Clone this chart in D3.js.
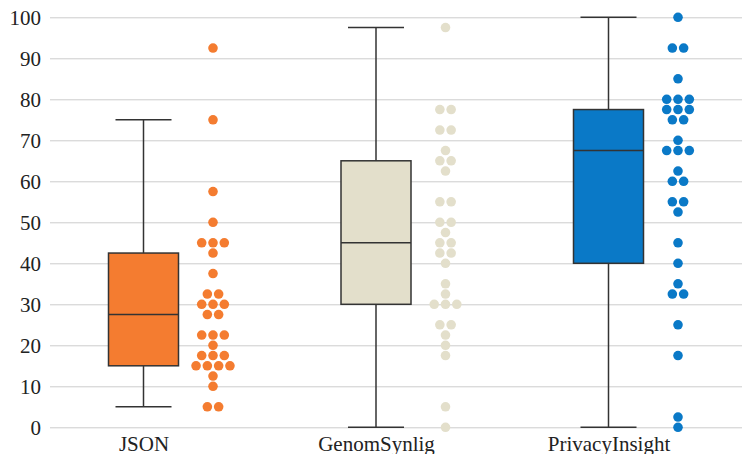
<!DOCTYPE html>
<html>
<head>
<meta charset="utf-8">
<script src="https://cdn.jsdelivr.net/npm/d3@7"></script>
<style>
  html, body { margin: 0; padding: 0; background: #fff; }
  svg { display: block; }
</style>
</head>
<body>
<svg id="chart" width="742" height="454"></svg>
<script>
const categories = ["JSON", "GenomSynlig", "PrivacyInsight"];
const colors = ["#F47C30", "#E3DFCB", "#0A79C7"];
// box statistics: [whiskerLow, q1, median, q3, whiskerHigh]
const boxJSON = [5, 15, 27.5, 42.5, 75];
const boxGenom = [0, 30, 45, 65, 97.5];
const boxPrivacy = [0, 40, 67.5, 77.5, 100];
// individual observations
const valuesJSON = [92.5, 75, 57.5, 50, 45, 45, 45, 42.5, 37.5, 32.5, 32.5, 30, 30, 30,
  27.5, 27.5, 22.5, 22.5, 22.5, 20, 17.5, 17.5, 17.5, 15, 15, 15, 15, 12.5, 10, 5, 5];
const valuesGenom = [97.5, 77.5, 77.5, 72.5, 72.5, 67.5, 65, 65, 62.5, 55, 55, 50, 50, 47.5,
  45, 45, 42.5, 42.5, 40, 35, 32.5, 30, 30, 30, 25, 25, 22.5, 20, 17.5, 5, 0];
const valuesPrivacy = [100, 92.5, 92.5, 85, 80, 80, 80, 77.5, 77.5, 77.5, 75, 75, 70,
  67.5, 67.5, 67.5, 62.5, 60, 60, 55, 55, 52.5, 45, 40, 35, 32.5, 32.5, 25, 17.5, 2.5, 0];
const yTicks = [0, 10, 20, 30, 40, 50, 60, 70, 80, 90, 100];

const boxes = [boxJSON, boxGenom, boxPrivacy];
const values = [valuesJSON, valuesGenom, valuesPrivacy];

const W = 742, H = 454;
const svg = d3.select("#chart");
const font = "'Liberation Serif', 'Times New Roman', serif";

const y = d3.scaleLinear().domain([0, 100]).range([427.3, 17.3]);
const x = d3.scalePoint().domain(categories).range([143.5, 608.5]);
const boxW = 70, capW = 56, dotOffset = 69.5, dotStep = 11.3, dotR = 4.8;

// grid
const yAxis = d3.axisLeft(y).tickValues(yTicks).tickSize(-(W - 50)).tickPadding(10).tickFormat(d3.format("d"));
const gy = svg.append("g").attr("transform", "translate(50,0)").call(yAxis);
gy.select(".domain").remove();
gy.selectAll(".tick line").attr("stroke", "#cccccc").attr("stroke-width", 1);
gy.selectAll(".tick text")
  .attr("fill", "#222").attr("font-family", font).attr("font-size", 21)
  .attr("x", -9).attr("dy", "0.35em");

// x labels
const xAxis = d3.axisBottom(x).tickSize(0).tickPadding(10);
const gx = svg.append("g").attr("transform", `translate(0,${y(0)})`).call(xAxis);
gx.select(".domain").remove();
gx.selectAll(".tick text")
  .attr("fill", "#222").attr("font-family", font).attr("font-size", 21)
  .attr("y", 24).attr("dy", 0);

// boxes
categories.forEach((c, i) => {
  const [lo, q1, med, q3, hi] = boxes[i];
  const cx = x(c);
  const g = svg.append("g");
  g.append("line").attr("x1", cx).attr("x2", cx).attr("y1", y(hi)).attr("y2", y(q3))
    .attr("stroke", "#333").attr("stroke-width", 1.5);
  g.append("line").attr("x1", cx).attr("x2", cx).attr("y1", y(q1)).attr("y2", y(lo))
    .attr("stroke", "#333").attr("stroke-width", 1.5);
  g.append("line").attr("x1", cx - capW / 2).attr("x2", cx + capW / 2).attr("y1", y(hi)).attr("y2", y(hi))
    .attr("stroke", "#333").attr("stroke-width", 1.5);
  g.append("line").attr("x1", cx - capW / 2).attr("x2", cx + capW / 2).attr("y1", y(lo)).attr("y2", y(lo))
    .attr("stroke", "#333").attr("stroke-width", 1.5);
  g.append("rect").attr("x", cx - boxW / 2).attr("width", boxW)
    .attr("y", y(q3)).attr("height", y(q1) - y(q3))
    .attr("fill", colors[i]).attr("stroke", "#333").attr("stroke-width", 1.5);
  g.append("line").attr("x1", cx - boxW / 2).attr("x2", cx + boxW / 2).attr("y1", y(med)).attr("y2", y(med))
    .attr("stroke", "#333").attr("stroke-width", 1.5);

  // dots: group equal values in rows, centered
  const counts = d3.rollup(values[i], v => v.length, d => d);
  const pts = [];
  counts.forEach((n, v) => {
    for (let k = 0; k < n; k++) pts.push({ v, off: (k - (n - 1) / 2) * dotStep });
  });
  svg.append("g").selectAll("circle").data(pts).join("circle")
    .attr("cx", d => cx + dotOffset + d.off)
    .attr("cy", d => y(d.v))
    .attr("r", dotR)
    .attr("fill", colors[i]);
});
</script>
</body>
</html>
